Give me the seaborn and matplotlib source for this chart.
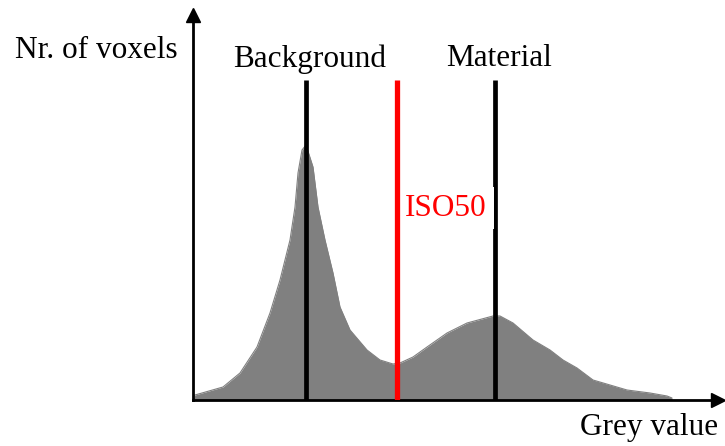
import matplotlib
matplotlib.use("Agg")
import matplotlib.pyplot as plt
import seaborn as sns
import pandas as pd

# Histogram outline (grey value vs. number of voxels)
grey_values = [0, 2, 30, 47, 64, 77, 87, 97, 102, 105, 109, 113, 120, 125, 132, 140,
               147, 157, 174, 187, 200, 207, 220, 234, 254, 274, 300, 307, 320, 340,
               357, 370, 384, 400, 417, 434, 457, 474, 479]
voxel_counts = [2, 5, 13, 27, 53, 87, 120, 160, 193, 227, 250, 255, 233, 193, 160, 127,
                93, 70, 50, 40, 36, 37, 43, 53, 67, 77, 84, 84, 77, 60,
                50, 40, 32, 20, 15, 10, 7, 4, 2]

peak_names = ["Background", "Material"]
peak_positions = [113, 302]
iso_name = "ISO50"
iso_position = 204

x_label = "Grey value"
y_label = "Nr. of voxels"

sns.set_theme(style="white")
plt.rcParams["font.family"] = ["Liberation Serif", "DejaVu Serif"]
plt.rcParams["text.color"] = "black"

df = pd.DataFrame({"grey": grey_values, "count": voxel_counts})

fig = plt.figure(figsize=(7.25, 4.46), dpi=100)
ax = fig.add_axes([193 / 725, 46 / 446, 525 / 725, 385 / 446])

ax.fill_between(df["grey"], 0, df["count"], color="#808080", linewidth=0)
sns.lineplot(data=df, x="grey", y="count", ax=ax, color="#808080", linewidth=0.8)

ax.vlines(peak_positions, 0, 320, colors="black", linewidth=3.4, zorder=3)
ax.vlines([iso_position], 0, 320, colors="#ff0000", linewidth=3.8, zorder=5)

for name, pos in zip(peak_names, peak_positions):
    ax.text(pos + 4, 341, name, ha="center", va="center", fontsize=22.5, color="black")

ax.text(iso_position + 8, 192, iso_name, ha="left", va="center", fontsize=22.5,
        color="#ff0000", zorder=4,
        bbox=dict(facecolor="white", edgecolor="none", pad=5))

ax.set_xlim(0, 525)
ax.set_ylim(0, 385)
ax.set_xticks([])
ax.set_yticks([])
ax.set_xlabel("")
ax.set_ylabel("")
for side in ["top", "right"]:
    ax.spines[side].set_visible(False)
for side in ["left", "bottom"]:
    ax.spines[side].set_linewidth(2.0)
    ax.spines[side].set_color("black")

ax.plot(1, 0, ">", color="black", markersize=10, transform=ax.transAxes, clip_on=False)
ax.plot(0, 1, "^", color="black", markersize=10, transform=ax.transAxes, clip_on=False)

ax.text(-178, 350, y_label, ha="left", va="center", fontsize=22.5, color="black",
        clip_on=False)
ax.text(525, -28, x_label, ha="right", va="center", fontsize=22.5, color="black",
        clip_on=False)

fig.savefig("out.png", dpi=100, facecolor="white")
